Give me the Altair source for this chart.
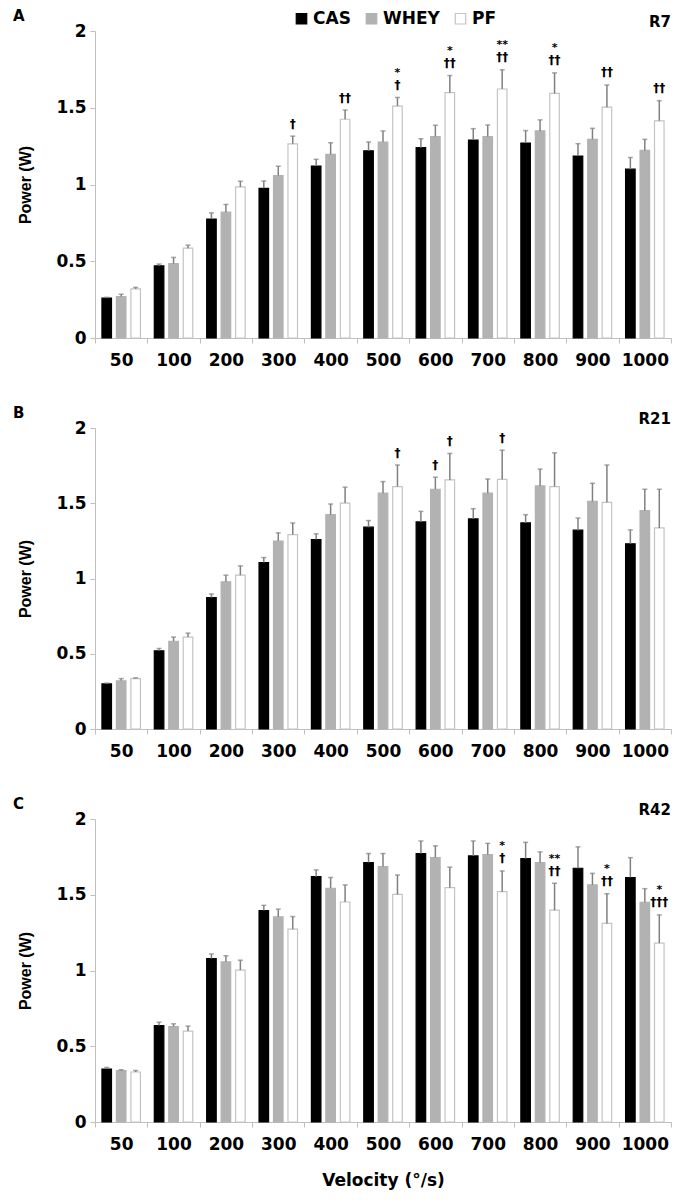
import altair as alt
import pandas as pd

velocities = ["50", "100", "200", "300", "400", "500", "600", "700", "800", "900", "1000"]
groups = ["CAS", "WHEY", "PF"]
fill_colors = ["#000000", "#b2b2b2", "#ffffff"]
stroke_colors = ["#000000", "#b2b2b2", "#c4c4c4"]

panel_letters = ["A", "B", "C"]
panel_rounds = ["R7", "R21", "R42"]

# Panel A (R7)
a_cas = [0.26, 0.47, 0.775, 0.975, 1.12, 1.22, 1.24, 1.29, 1.27, 1.185, 1.10]
a_cas_err = [0.005, 0.012, 0.04, 0.048, 0.044, 0.057, 0.058, 0.074, 0.081, 0.081, 0.076]
a_whey = [0.27, 0.485, 0.82, 1.058, 1.196, 1.277, 1.312, 1.312, 1.349, 1.294, 1.222]
a_whey_err = [0.015, 0.04, 0.05, 0.061, 0.076, 0.072, 0.074, 0.076, 0.072, 0.072, 0.072]
a_pf = [0.32, 0.585, 0.984, 1.265, 1.425, 1.511, 1.598, 1.622, 1.594, 1.504, 1.415]
a_pf_err = [0.01, 0.02, 0.037, 0.05, 0.06, 0.056, 0.112, 0.125, 0.133, 0.145, 0.131]

# Panel B (R21)
b_cas = [0.30, 0.52, 0.873, 1.106, 1.259, 1.341, 1.376, 1.396, 1.369, 1.321, 1.231]
b_cas_err = [0.005, 0.015, 0.024, 0.033, 0.038, 0.044, 0.07, 0.068, 0.055, 0.081, 0.092]
b_whey = [0.32, 0.583, 0.978, 1.249, 1.424, 1.567, 1.593, 1.567, 1.615, 1.512, 1.451]
b_whey_err = [0.015, 0.028, 0.044, 0.054, 0.071, 0.077, 0.08, 0.094, 0.112, 0.121, 0.142]
b_pf = [0.335, 0.611, 1.022, 1.292, 1.501, 1.611, 1.655, 1.659, 1.611, 1.506, 1.336]
b_pf_err = [0.005, 0.026, 0.062, 0.077, 0.106, 0.143, 0.176, 0.194, 0.224, 0.248, 0.257]

# Panel C (R42)
c_cas = [0.35, 0.637, 1.079, 1.396, 1.619, 1.713, 1.772, 1.756, 1.738, 1.675, 1.614]
c_cas_err = [0.01, 0.022, 0.03, 0.034, 0.045, 0.059, 0.083, 0.099, 0.108, 0.141, 0.131]
c_whey = [0.34, 0.63, 1.057, 1.354, 1.543, 1.686, 1.745, 1.765, 1.713, 1.565, 1.45]
c_whey_err = [0.005, 0.018, 0.04, 0.051, 0.071, 0.086, 0.078, 0.074, 0.07, 0.076, 0.09]
c_pf = [0.33, 0.60, 1.003, 1.273, 1.452, 1.502, 1.547, 1.52, 1.398, 1.311, 1.181]
c_pf_err = [0.01, 0.033, 0.065, 0.083, 0.113, 0.128, 0.135, 0.137, 0.178, 0.195, 0.186]

# Significance annotations
a_ann_vel = ["300", "400", "500", "600", "700", "800", "900", "1000"]
a_ann_grp = ["PF", "PF", "PF", "PF", "PF", "PF", "PF", "PF"]
a_ann_star = ["", "", "*", "*", "**", "*", "", ""]
a_ann_dag = ["†", "††", "†", "††", "††", "††", "††", "††"]

b_ann_vel = ["500", "600", "600", "700"]
b_ann_grp = ["PF", "WHEY", "PF", "PF"]
b_ann_star = ["", "", "", ""]
b_ann_dag = ["†", "†", "†", "†"]

c_ann_vel = ["700", "800", "900", "1000"]
c_ann_grp = ["PF", "PF", "PF", "PF"]
c_ann_star = ["*", "**", "*", "*"]
c_ann_dag = ["†", "††", "††", "†††"]

FONT = "DejaVu Sans"


def make_df(cas, cas_e, whey, whey_e, pf, pf_e):
    rows = []
    for g, vals, errs in [("CAS", cas, cas_e), ("WHEY", whey, whey_e), ("PF", pf, pf_e)]:
        for v, m, e in zip(velocities, vals, errs):
            rows.append({"velocity": v, "group": g, "mean": m, "err": e, "top": m + e})
    return pd.DataFrame(rows)


def make_ann(df, vel, grp, star, dag):
    ann = pd.DataFrame({"velocity": vel, "group": grp, "star": star, "dagger": dag})
    return ann.merge(df[["velocity", "group", "top"]], on=["velocity", "group"], how="left")


def panel(df, ann, letter, rnd, h, legend, xtitle):
    x = alt.X(
        "velocity:N",
        sort=velocities,
        scale=alt.Scale(domain=velocities, paddingInner=0, paddingOuter=0),
        axis=alt.Axis(
            title=xtitle,
            tickBand="extent",
            labelAngle=0,
            labelPadding=9,
            titlePadding=20,
            titleFont=FONT,
            titleFontSize=17,
            titleFontWeight="bold",
        ),
    )
    xo = alt.XOffset(
        "group:N",
        sort=groups,
        scale=alt.Scale(domain=groups, paddingInner=0.34, paddingOuter=0.48),
    )
    y = alt.Y(
        "mean:Q",
        scale=alt.Scale(domain=[0, 2], nice=False),
        axis=alt.Axis(
            values=[0, 0.5, 1, 1.5, 2],
            format="~g",
            title="Power (W)",
            titleFont="Liberation Sans",
            titleFontSize=16,
            titleFontWeight="bold",
            titlePadding=22,
            labelPadding=4,
        ),
    )
    fill_kwargs = dict(sort=groups, scale=alt.Scale(domain=groups, range=fill_colors))
    stroke_kwargs = dict(sort=groups, scale=alt.Scale(domain=groups, range=stroke_colors))
    if legend is None:
        fill = alt.Fill("group:N", legend=None, **fill_kwargs)
        stroke = alt.Stroke("group:N", legend=None, **stroke_kwargs)
    else:
        fill = alt.Fill("group:N", legend=legend, title=None, **fill_kwargs)
        stroke = alt.Stroke("group:N", legend=legend, title=None, **stroke_kwargs)

    base = alt.Chart(df)
    bars = base.mark_bar(strokeWidth=1.2).encode(x=x, xOffset=xo, y=y, fill=fill, stroke=stroke)
    rules = base.mark_rule(color="#808080", strokeWidth=1.5).encode(
        x=x, xOffset=xo, y="mean:Q", y2="top:Q"
    )
    caps = base.mark_tick(color="#808080", thickness=1.5, size=5, orient="horizontal").encode(
        x=x, xOffset=xo, y="top:Q"
    )
    abase = alt.Chart(ann)
    dags = abase.mark_text(
        font=FONT, fontWeight="bold", fontSize=12, baseline="middle", dy=-12.5, color="black"
    ).encode(x=x, xOffset=xo, y="top:Q", text="dagger:N")
    stars = abase.mark_text(
        font=FONT, fontWeight="bold", fontSize=11, baseline="middle", dy=-24.5, color="black"
    ).encode(x=x, xOffset=xo, y="top:Q", text="star:N")

    lab_df = pd.DataFrame({"letter": [letter], "round": [rnd]})
    letter_txt = alt.Chart(lab_df).mark_text(
        font=FONT, fontWeight="bold", fontSize=15, align="left", baseline="middle", color="black"
    ).encode(x=alt.value(-82), y=alt.value(-15), text="letter:N")
    round_txt = alt.Chart(lab_df).mark_text(
        font=FONT, fontWeight="bold", fontSize=15, align="right", baseline="middle", color="black"
    ).encode(x=alt.value(576), y=alt.value(-9), text="round:N")

    return alt.layer(bars, rules, caps, dags, stars, letter_txt, round_txt).properties(
        width=576, height=h
    )


df_a = make_df(a_cas, a_cas_err, a_whey, a_whey_err, a_pf, a_pf_err)
df_b = make_df(b_cas, b_cas_err, b_whey, b_whey_err, b_pf, b_pf_err)
df_c = make_df(c_cas, c_cas_err, c_whey, c_whey_err, c_pf, c_pf_err)

ann_a = make_ann(df_a, a_ann_vel, a_ann_grp, a_ann_star, a_ann_dag)
ann_b = make_ann(df_b, b_ann_vel, b_ann_grp, b_ann_star, b_ann_dag)
ann_c = make_ann(df_c, c_ann_vel, c_ann_grp, c_ann_star, c_ann_dag)

legend = alt.Legend(
    orient="none",
    legendX=198,
    legendY=-21,
    direction="horizontal",
    title=None,
    labelFont=FONT,
    labelFontWeight="bold",
    labelFontSize=17,
    labelColor="black",
    symbolType="square",
    symbolSize=110,
    symbolStrokeWidth=1.2,
    columnPadding=12,
    labelOffset=3,
)

pa = panel(df_a, ann_a, panel_letters[0], panel_rounds[0], 307, legend, None)
pb = panel(df_b, ann_b, panel_letters[1], panel_rounds[1], 301, None, None)
pc = panel(df_c, ann_c, panel_letters[2], panel_rounds[2], 303, None, "Velocity (°/s)")

chart = (
    alt.vconcat(pa, pb, pc, spacing=90, bounds="flush")
    .resolve_scale(fill="independent", stroke="independent")
    .properties(padding={"left": 5, "top": 1, "right": 5, "bottom": 10})
    .configure_view(stroke=None)
    .configure_axis(
        labelFont=FONT,
        labelFontWeight="bold",
        labelFontSize=17,
        labelColor="black",
        titleColor="black",
        domainColor="#bfbfbf",
        tickColor="#bfbfbf",
        tickSize=5,
        grid=False,
    )
)

chart.save("out.html", embed_options={"renderer": "svg", "actions": False})
